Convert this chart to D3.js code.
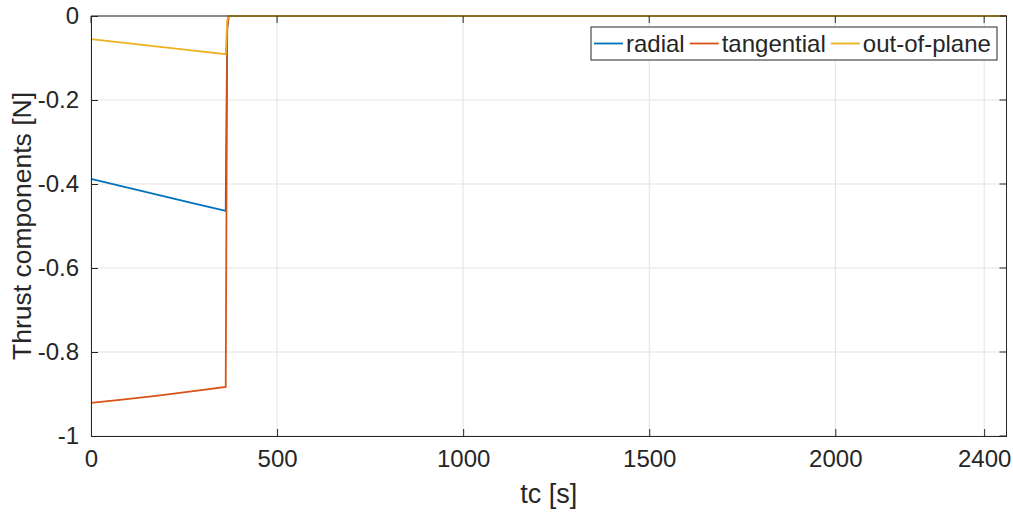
<!DOCTYPE html>
<html>
<head>
<meta charset="utf-8">
<script src="https://cdn.jsdelivr.net/npm/d3@7"></script>
<style>
  body { margin: 0; background: #fff; }
  svg text { font-family: "Liberation Sans", Arial, sans-serif; fill: #262626; }
</style>
</head>
<body>
<div id="chart"></div>
<script>
// time samples [s]
const time = [0, 90, 180, 270, 362, 366, 370, 2460];
const radial = [-0.388, -0.407, -0.426, -0.445, -0.464, -0.03, 0, 0];
const tangential = [-0.921, -0.913, -0.904, -0.894, -0.883, -0.03, 0, 0];
const outOfPlane = [-0.055, -0.064, -0.073, -0.082, -0.091, -0.01, 0, 0];

const seriesNames = ["radial", "tangential", "out-of-plane"];
const seriesColors = ["#0072BD", "#D95319", "#EDB120"];
const xTicks = [0, 500, 1000, 1500, 2000, 2400];
const yTicks = [0, -0.2, -0.4, -0.6, -0.8, -1];

const width = 1013, height = 512;
const margin = {top: 16, right: 6.5, bottom: 76, left: 91};
const w = width - margin.left - margin.right;
const h = height - margin.top - margin.bottom;

const svg = d3.select("#chart").append("svg")
    .attr("width", width)
    .attr("height", height);

const g = svg.append("g")
    .attr("transform", `translate(${margin.left},${margin.top})`);

const x = d3.scaleLinear().domain([0, 2460]).range([0, w]);
const y = d3.scaleLinear().domain([-1, 0]).range([h, 0]);

// grid
g.append("g").selectAll("line")
    .data(xTicks)
    .join("line")
    .attr("x1", d => x(d)).attr("x2", d => x(d))
    .attr("y1", 0).attr("y2", h)
    .attr("stroke", "#e3e3e3").attr("stroke-width", 1);
g.append("g").selectAll("line")
    .data(yTicks)
    .join("line")
    .attr("x1", 0).attr("x2", w)
    .attr("y1", d => y(d)).attr("y2", d => y(d))
    .attr("stroke", "#e3e3e3").attr("stroke-width", 1);

// lines
const allSeries = [radial, tangential, outOfPlane];
const line = d3.line()
    .x((d, i) => x(time[i]))
    .y(d => y(d));

g.selectAll(".series")
    .data(allSeries)
    .join("path")
    .attr("class", "series")
    .attr("fill", "none")
    .attr("stroke", (d, i) => seriesColors[i])
    .attr("stroke-width", 1.8)
    .attr("d", d => line(d));

// axes (MATLAB style: inward ticks, box)
const xAxis = d3.axisBottom(x).tickValues(xTicks).tickSizeInner(-7).tickSizeOuter(0).tickPadding(14)
    .tickFormat(d3.format("d"));
const yAxis = d3.axisLeft(y).tickValues(yTicks).tickSizeInner(-7).tickSizeOuter(0).tickPadding(12)
    .tickFormat(d => d === 0 ? "0" : (d === -1 ? "-1" : d3.format(".1f")(d).replace("\u2212", "-")));

const xg = g.append("g")
    .attr("transform", `translate(0,${h})`)
    .call(xAxis);
const yg = g.append("g").call(yAxis);

[xg, yg].forEach(a => {
    a.select(".domain").attr("stroke", "#262626");
    a.selectAll(".tick line").attr("stroke", "#262626");
    a.selectAll("text").attr("font-size", 24).attr("fill", "#262626")
        .attr("font-family", "Liberation Sans, Arial, sans-serif");
});
xg.selectAll("text").attr("dy", "0.7em");

// top and right box lines with ticks
g.append("line").attr("x1", 0).attr("x2", w).attr("y1", 0).attr("y2", 0).attr("stroke", "#262626");
g.append("line").attr("x1", w).attr("x2", w).attr("y1", 0).attr("y2", h).attr("stroke", "#262626");
g.append("g").selectAll("line").data(xTicks).join("line")
    .attr("x1", d => x(d)).attr("x2", d => x(d)).attr("y1", 0).attr("y2", 7).attr("stroke", "#262626");
g.append("g").selectAll("line").data(yTicks).join("line")
    .attr("x1", w - 7).attr("x2", w).attr("y1", d => y(d)).attr("y2", d => y(d)).attr("stroke", "#262626");

// axis labels
svg.append("text")
    .attr("x", margin.left + w / 2)
    .attr("y", 503)
    .attr("text-anchor", "middle")
    .attr("font-size", 27)
    .text("tc [s]");

svg.append("text")
    .attr("transform", `translate(31,${margin.top + h / 2}) rotate(-90)`)
    .attr("text-anchor", "middle")
    .attr("font-size", 26.5)
    .text("Thrust components [N]");

// legend
const legend = svg.append("g");
const lx = 591, ly = 27, lh = 33, lineLen = 29;
const box = legend.append("rect")
    .attr("x", lx).attr("y", ly).attr("height", lh)
    .attr("fill", "#fff").attr("stroke", "#262626").attr("stroke-width", 1);
let cx = lx + 3;
seriesNames.forEach((name, i) => {
    legend.append("line")
        .attr("x1", cx).attr("x2", cx + lineLen)
        .attr("y1", ly + lh / 2).attr("y2", ly + lh / 2)
        .attr("stroke", seriesColors[i]).attr("stroke-width", 1.8);
    const t = legend.append("text")
        .attr("x", cx + lineLen + 3)
        .attr("y", ly + lh / 2)
        .attr("dy", "0.36em")
        .attr("font-size", 24)
        .text(name);
    cx += lineLen + 3 + t.node().getComputedTextLength() + 5;
});
box.attr("width", 997 - lx);
</script>
</body>
</html>
